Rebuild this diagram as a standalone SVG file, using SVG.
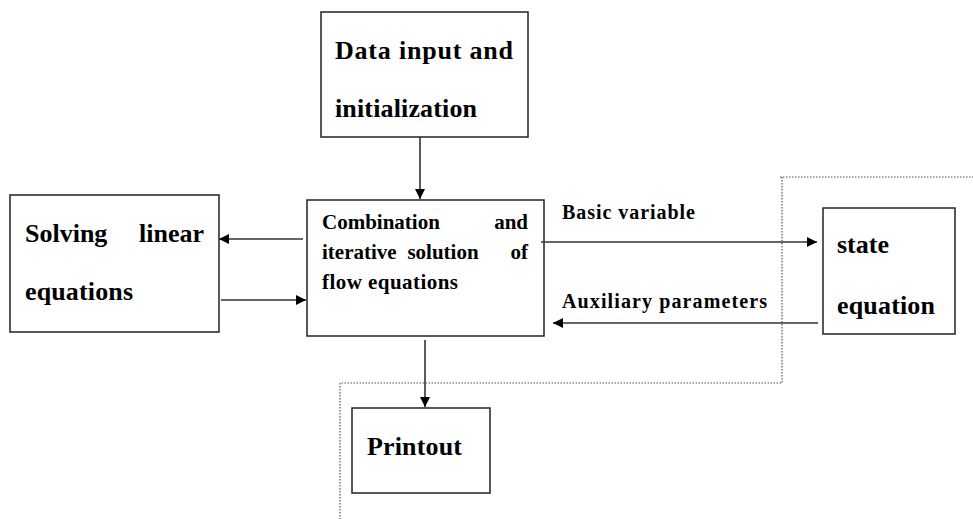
<svg xmlns="http://www.w3.org/2000/svg" width="973" height="519" viewBox="0 0 973 519">
<style>
.box{fill:#fff;stroke:#222;stroke-width:1.5}
.t{font-family:"Liberation Serif","Times New Roman",serif;font-weight:bold;fill:#000}
.big{font-size:26px}
.mid{font-size:21px}
.lab{font-size:20px}
.ln{stroke:#333;stroke-width:1.6;fill:none}
.dot{stroke:#555;stroke-width:1.2;stroke-dasharray:1.5 1.5;fill:none}
</style>
<defs>
<marker id="ah" viewBox="0 0 10 10" refX="10" refY="5" markerWidth="11" markerHeight="10" markerUnits="userSpaceOnUse" orient="auto">
<path d="M0,0 L10,5 L0,10 z" fill="#000"/>
</marker>
</defs>
<g id="boundary">
<path class="dot" d="M780,177 H973 M782,177 V383 H340 V519"/>
</g>
<g id="data-input">
<rect class="box" x="321" y="12" width="207" height="125"/>
<text class="t big" x="335" y="59" textLength="178" lengthAdjust="spacing">Data input and</text>
<text class="t big" x="335" y="117" textLength="142" lengthAdjust="spacing">initialization</text>
</g>
<g id="solving">
<rect class="box" x="10" y="195" width="209" height="137"/>
<text class="t big" x="25" y="242">Solving</text>
<text class="t big" x="204" y="242" text-anchor="end">linear</text>
<text class="t big" x="25" y="300" textLength="108" lengthAdjust="spacing">equations</text>
</g>
<g id="combination">
<rect class="box" x="307" y="200" width="237" height="136"/>
<text class="t mid" x="322" y="229">Combination</text>
<text class="t mid" x="528" y="229" text-anchor="end">and</text>
<text class="t mid" x="322" y="259">iterative</text>
<text class="t mid" x="443" y="259" text-anchor="middle">solution</text>
<text class="t mid" x="528" y="259" text-anchor="end">of</text>
<text class="t mid" x="322" y="289" textLength="136" lengthAdjust="spacing">flow equations</text>
</g>
<g id="state">
<rect class="box" x="823" y="208" width="132" height="126"/>
<text class="t big" x="837" y="253">state</text>
<text class="t big" x="837" y="314" textLength="98" lengthAdjust="spacing">equation</text>
</g>
<g id="printout">
<rect class="box" x="352" y="408" width="138" height="85"/>
<text class="t big" x="367" y="455" textLength="95" lengthAdjust="spacing">Printout</text>
</g>
<g id="connectors">
<line class="ln" x1="420" y1="137" x2="420" y2="199" marker-end="url(#ah)"/>
<line class="ln" x1="303" y1="239" x2="219" y2="239" marker-end="url(#ah)"/>
<line class="ln" x1="221" y1="300" x2="306" y2="300" marker-end="url(#ah)"/>
<line class="ln" x1="541" y1="242" x2="817" y2="242" marker-end="url(#ah)"/>
<line class="ln" x1="818" y1="323" x2="553" y2="323" marker-end="url(#ah)"/>
<line class="ln" x1="425" y1="340" x2="425" y2="407" marker-end="url(#ah)"/>
<text class="t lab" x="562" y="219" textLength="133" lengthAdjust="spacing">Basic variable</text>
<text class="t lab" x="562" y="308" textLength="205" lengthAdjust="spacing">Auxiliary parameters</text>
</g>
</svg>
